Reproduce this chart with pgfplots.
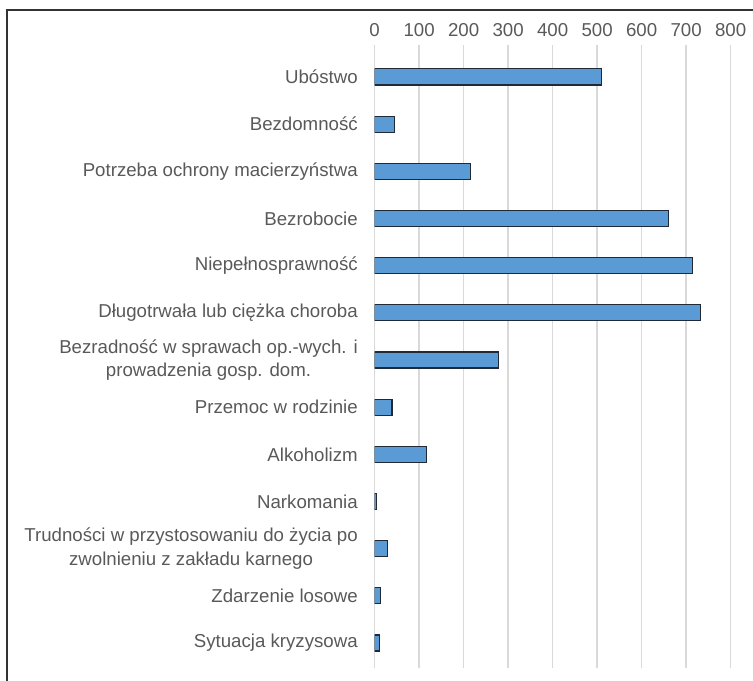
\documentclass[border=0pt]{standalone}
\usepackage{pgfplots}
\pgfplotsset{compat=1.18}
\usepackage{fontspec}
\setmainfont{Liberation Sans}
\definecolor{barblue}{HTML}{5B9BD5}
\definecolor{baredge}{HTML}{1F2A36}
\definecolor{txt}{HTML}{595959}
\definecolor{gridc}{HTML}{D9D9D9}
\begin{document}
\begin{tikzpicture}
\useasboundingbox (0,0) rectangle (564.75pt,510.75pt);
\draw[color=black!80, line width=1.1pt] (5.25pt,0pt) -- (5.25pt,503.25pt) -- (564.75pt,503.25pt);
\begin{axis}[
  at={(281pt,9.75pt)}, anchor=south west,
  scale only axis, width=267pt, height=467.25pt,
  xbar, bar width=0.34,
  xmin=0, xmax=800, xtick={0,100,...,800},
  ymin=-0.678, ymax=12.53, y dir=reverse,
  ytick={0,...,12},
  yticklabels={Ubóstwo, Bezdomność, Potrzeba ochrony macierzyństwa, Bezrobocie, Niepełnosprawność, Długotrwała lub ciężka choroba, {Bezradność w sprawach op.-wych. i\\[1.5pt]prowadzenia gosp. dom.}, Przemoc w rodzinie, Alkoholizm, Narkomania, {Trudności w przystosowaniu do życia po\\[1.5pt]zwolnieniu z zakładu karnego}, Zdarzenie losowe, Sytuacja kryzysowa},
  xticklabel pos=upper,
  axis line style={draw=none},
  major tick length=0pt,
  xmajorgrids, grid style={gridc, line width=1.1pt},
  /pgf/number format/assume math mode=true,
  ticklabel style={font=\fontsize{14}{16}\selectfont, text=txt, inner sep=0pt},
  xticklabel style={yshift=6pt},
  yticklabel style={align=center, xshift=-12.5pt},
]
\addplot[fill=barblue, draw=baredge, line width=0.8pt] coordinates {
(509,0) (44,1) (216,2) (661,3) (715,4) (733,5) (278,6) (39,7) (117,8) (4,9) (28,10) (13,11) (11,12)};
\end{axis}
\end{tikzpicture}
\end{document}
